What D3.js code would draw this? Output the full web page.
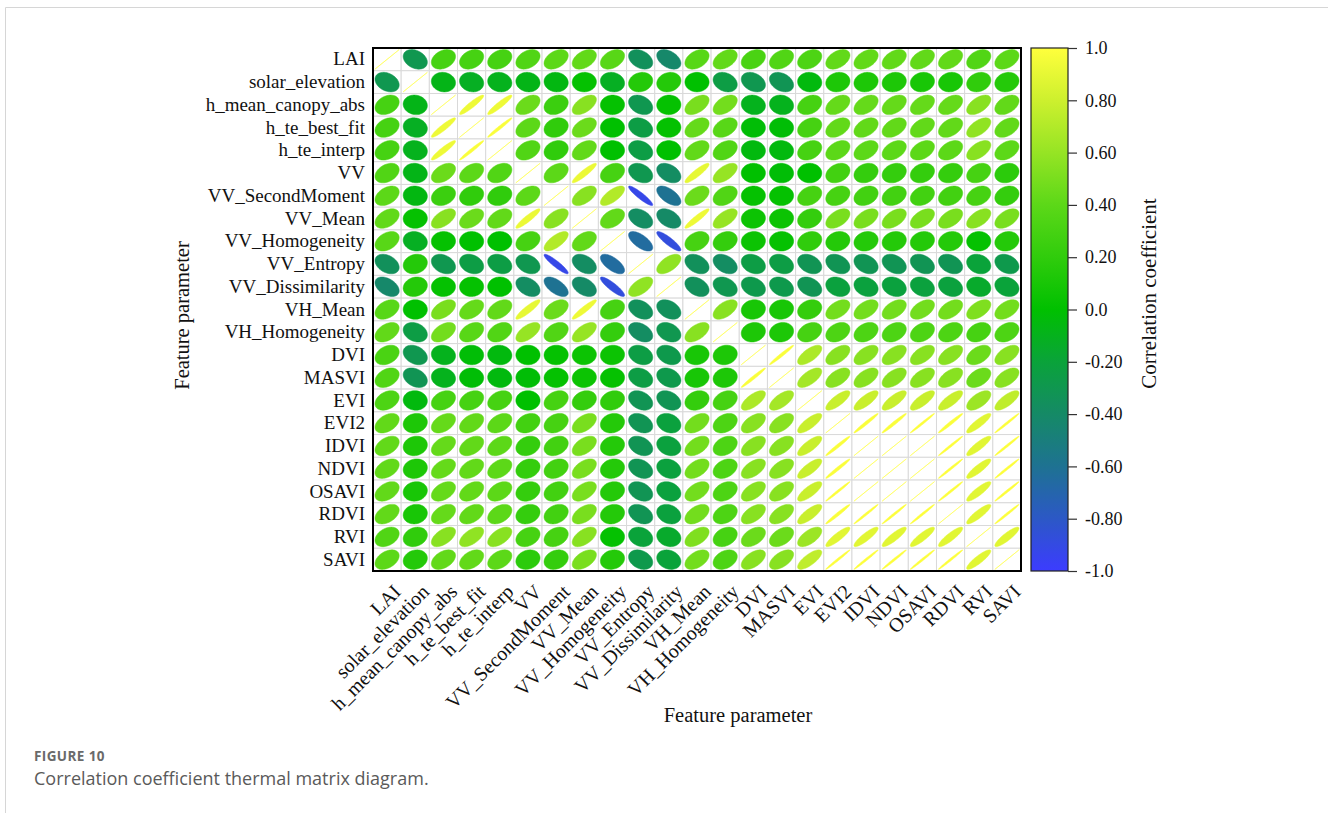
<!DOCTYPE html>
<html>
<head>
<meta charset="utf-8">
<script src="https://cdn.jsdelivr.net/npm/d3@7"></script>
<style>
  html, body { margin: 0; padding: 0; background: #fff; }
  svg { display: block; }
</style>
</head>
<body>
<svg id="chart" width="1328" height="813"></svg>
<script>
// Feature parameters, in matrix order
const features = [
  "LAI", "solar_elevation", "h_mean_canopy_abs", "h_te_best_fit", "h_te_interp",
  "VV", "VV_SecondMoment", "VV_Mean", "VV_Homogeneity", "VV_Entropy",
  "VV_Dissimilarity", "VH_Mean", "VH_Homogeneity", "DVI", "MASVI", "EVI",
  "EVI2", "IDVI", "NDVI", "OSAVI", "RDVI", "RVI", "SAVI"
];

// Pearson correlation coefficients, one row per feature
const corrLAI        = [1, -0.30, 0.30, 0.30, 0.30, 0.35, 0.40, 0.42, 0.38, -0.35, -0.42, 0.38, 0.42, 0.32, 0.35, 0.33, 0.42, 0.42, 0.42, 0.42, 0.42, 0.35, 0.40];
const corrSolar      = [-0.30, 1, -0.08, -0.12, -0.10, -0.08, -0.06, 0.02, -0.12, 0.15, 0.15, 0.00, -0.25, -0.30, -0.32, -0.05, 0.12, 0.12, 0.12, 0.10, 0.10, 0.20, 0.15];
const corrHMean      = [0.30, -0.08, 1, 0.93, 0.93, 0.45, 0.25, 0.55, 0.02, -0.30, 0.02, 0.50, 0.48, -0.10, -0.10, 0.30, 0.43, 0.43, 0.43, 0.43, 0.43, 0.55, 0.42];
const corrHBestFit   = [0.30, -0.12, 0.93, 1, 0.98, 0.40, 0.20, 0.45, 0.00, -0.25, 0.02, 0.43, 0.38, -0.02, -0.02, 0.30, 0.42, 0.42, 0.42, 0.42, 0.42, 0.58, 0.42];
const corrHInterp    = [0.30, -0.10, 0.93, 0.98, 1, 0.35, 0.20, 0.42, 0.00, -0.25, 0.00, 0.42, 0.35, -0.05, -0.05, 0.30, 0.40, 0.40, 0.40, 0.40, 0.40, 0.55, 0.40];
const corrVV         = [0.35, -0.08, 0.45, 0.40, 0.35, 1, 0.40, 0.92, 0.30, -0.30, -0.38, 0.90, 0.60, 0.00, -0.02, 0.00, 0.28, 0.22, 0.22, 0.22, 0.22, 0.30, 0.18];
const corrVVSecMom   = [0.40, -0.06, 0.25, 0.20, 0.20, 0.40, 1, 0.55, 0.70, -0.92, -0.60, 0.45, 0.35, 0.02, 0.02, 0.30, 0.30, 0.28, 0.28, 0.28, 0.28, 0.30, 0.22];
const corrVVMean     = [0.42, 0.02, 0.55, 0.45, 0.42, 0.92, 0.55, 1, 0.42, -0.38, -0.40, 0.93, 0.60, 0.05, 0.05, 0.22, 0.50, 0.50, 0.50, 0.50, 0.50, 0.55, 0.50];
const corrVVHomog    = [0.38, -0.12, 0.02, 0.00, 0.00, 0.30, 0.70, 0.42, 1, -0.65, -0.88, 0.30, 0.22, 0.05, 0.02, 0.20, 0.15, 0.15, 0.15, 0.15, 0.15, 0.02, 0.15];
const corrVVEntropy  = [-0.35, 0.15, -0.30, -0.25, -0.25, -0.30, -0.92, -0.38, -0.65, 1, 0.58, -0.35, -0.38, -0.25, -0.25, -0.32, -0.32, -0.32, -0.32, -0.32, -0.32, -0.20, -0.28];
const corrVVDissim   = [-0.42, 0.15, 0.02, 0.02, 0.00, -0.38, -0.60, -0.40, -0.88, 0.58, 1, -0.35, -0.30, -0.28, -0.28, -0.32, -0.22, -0.22, -0.22, -0.22, -0.22, -0.15, -0.20];
const corrVHMean     = [0.38, 0.00, 0.50, 0.43, 0.42, 0.90, 0.45, 0.93, 0.30, -0.35, -0.35, 1, 0.55, 0.10, 0.10, 0.22, 0.48, 0.48, 0.48, 0.48, 0.48, 0.52, 0.48];
const corrVHHomog    = [0.42, -0.25, 0.48, 0.38, 0.35, 0.60, 0.35, 0.60, 0.22, -0.38, -0.30, 0.55, 1, 0.12, 0.12, 0.30, 0.33, 0.33, 0.33, 0.33, 0.33, 0.30, 0.33];
const corrDVI        = [0.32, -0.30, -0.10, -0.02, -0.05, 0.00, 0.02, 0.05, 0.05, -0.25, -0.28, 0.10, 0.12, 1, 0.98, 0.68, 0.55, 0.55, 0.55, 0.55, 0.55, 0.45, 0.55];
const corrMASVI      = [0.35, -0.32, -0.10, -0.02, -0.05, -0.02, 0.02, 0.05, 0.02, -0.25, -0.28, 0.10, 0.12, 0.98, 1, 0.65, 0.55, 0.55, 0.55, 0.55, 0.55, 0.45, 0.55];
const corrEVI        = [0.33, -0.05, 0.30, 0.30, 0.30, 0.00, 0.30, 0.22, 0.20, -0.32, -0.32, 0.22, 0.30, 0.68, 0.65, 1, 0.78, 0.78, 0.78, 0.78, 0.78, 0.62, 0.75];
const corrEVI2       = [0.42, 0.12, 0.43, 0.42, 0.40, 0.28, 0.30, 0.50, 0.15, -0.32, -0.22, 0.48, 0.33, 0.55, 0.55, 0.78, 1, 0.98, 0.98, 0.99, 0.98, 0.88, 0.99];
const corrIDVI       = [0.42, 0.12, 0.43, 0.42, 0.40, 0.22, 0.28, 0.50, 0.15, -0.32, -0.22, 0.48, 0.33, 0.55, 0.55, 0.78, 0.98, 1, 1.00, 1.00, 0.99, 0.88, 0.99];
const corrNDVI       = [0.42, 0.12, 0.43, 0.42, 0.40, 0.22, 0.28, 0.50, 0.15, -0.32, -0.22, 0.48, 0.33, 0.55, 0.55, 0.78, 0.98, 1.00, 1, 1.00, 0.99, 0.88, 0.99];
const corrOSAVI      = [0.42, 0.10, 0.43, 0.42, 0.40, 0.22, 0.28, 0.50, 0.15, -0.32, -0.22, 0.48, 0.33, 0.55, 0.55, 0.78, 0.99, 1.00, 1.00, 1, 0.99, 0.88, 0.99];
const corrRDVI       = [0.42, 0.10, 0.43, 0.42, 0.40, 0.22, 0.28, 0.50, 0.15, -0.32, -0.22, 0.48, 0.33, 0.55, 0.55, 0.78, 0.98, 0.99, 0.99, 0.99, 1, 0.88, 0.99];
const corrRVI        = [0.35, 0.20, 0.55, 0.58, 0.55, 0.30, 0.30, 0.55, 0.02, -0.20, -0.15, 0.52, 0.30, 0.45, 0.45, 0.62, 0.88, 0.88, 0.88, 0.88, 0.88, 1, 0.88];
const corrSAVI       = [0.40, 0.15, 0.42, 0.42, 0.40, 0.18, 0.22, 0.50, 0.15, -0.28, -0.20, 0.48, 0.33, 0.55, 0.55, 0.75, 0.99, 0.99, 0.99, 0.99, 0.99, 0.88, 1];

const corrRows = [
  corrLAI, corrSolar, corrHMean, corrHBestFit, corrHInterp, corrVV, corrVVSecMom,
  corrVVMean, corrVVHomog, corrVVEntropy, corrVVDissim, corrVHMean, corrVHHomog,
  corrDVI, corrMASVI, corrEVI, corrEVI2, corrIDVI, corrNDVI, corrOSAVI, corrRDVI,
  corrRVI, corrSAVI
];

// Colour map stops (value -> colour) and colour-bar tick labels
const colorStops  = [-1, -0.8, -0.6, -0.4, -0.2, 0, 0.2, 0.4, 0.6, 0.8, 1];
const colorValues = ["#3c3cff", "#2c58c6", "#1e7292", "#158a66", "#0aa33a", "#00c000",
                     "#30cc0c", "#5cd818", "#96e424", "#cdf02e", "#ffff3c"];
const colorTicks  = [1.0, 0.8, 0.6, 0.4, 0.2, 0.0, -0.2, -0.4, -0.6, -0.8, -1.0];
const colorTickLabels = ["1.0", "0.80", "0.60", "0.40", "0.20", "0.0",
                         "-0.20", "-0.40", "-0.60", "-0.80", "-1.0"];

const svg = d3.select("#chart");
const serif = "'Liberation Serif', 'Times New Roman', serif";

// Figure card edge
svg.append("path")
  .attr("d", "M5.5,813 V7.5 H1328")
  .attr("fill", "none").attr("stroke", "#d6d6d6").attr("stroke-width", 1);

// Matrix area
const plot = { left: 373, top: 48, right: 1021, bottom: 571 };
const x = d3.scaleBand().domain(features).range([plot.left, plot.right]);
const y = d3.scaleBand().domain(features).range([plot.top, plot.bottom]);
const color = d3.scaleLinear().domain(colorStops).range(colorValues).clamp(true);

const cells = [];
corrRows.forEach((row, i) => row.forEach((r, j) => cells.push({ row: features[i], col: features[j], r })));

// Cell grid
const grid = svg.append("g");
grid.selectAll("rect").data(cells).join("rect")
  .attr("x", d => x(d.col)).attr("y", d => y(d.row))
  .attr("width", x.bandwidth()).attr("height", y.bandwidth())
  .attr("fill", "#fff").attr("stroke", "#d9d9d9").attr("stroke-width", 1);

// Ellipse for a correlation r inside a cell (positive r leans up-right)
function ellipsePath(r, cx, cy, kx, ky) {
  const d = Math.acos(Math.max(-1, Math.min(1, r)));
  const pts = d3.range(0, 73).map(k => {
    const t = k / 72 * 2 * Math.PI;
    return [cx + kx * Math.cos(t + d / 2), cy - ky * Math.cos(t - d / 2)];
  });
  return d3.line()(pts) + "Z";
}

const kx = x.bandwidth() * 0.43, ky = y.bandwidth() * 0.43;
svg.append("g").selectAll("path").data(cells).join("path")
  .attr("d", d => ellipsePath(d.r, x(d.col) + x.bandwidth() / 2, y(d.row) + y.bandwidth() / 2, kx, ky))
  .attr("fill", d => color(d.r))
  .attr("stroke", d => color(d.r))
  .attr("stroke-width", d => d.r >= 0.999 ? 1 : 0.5)
  .attr("stroke-opacity", d => d.r >= 0.999 ? 0.55 : 1);

// Frame
svg.append("rect")
  .attr("x", plot.left).attr("y", plot.top)
  .attr("width", plot.right - plot.left).attr("height", plot.bottom - plot.top)
  .attr("fill", "none").attr("stroke", "#000").attr("stroke-width", 2);

// Row labels
const yAxis = svg.append("g").attr("transform", `translate(${plot.left - 8},0)`)
  .call(d3.axisLeft(y).tickSize(0).tickPadding(0));
yAxis.select(".domain").remove();
yAxis.selectAll("text").attr("font-family", serif).attr("font-size", 19).attr("fill", "#111");

// Column labels, rotated
const xAxis = svg.append("g").attr("transform", `translate(0,${plot.bottom})`)
  .call(d3.axisBottom(x).tickSize(0).tickPadding(0));
xAxis.select(".domain").remove();
xAxis.selectAll("text")
  .attr("font-family", serif).attr("font-size", 20).attr("fill", "#111")
  .attr("text-anchor", "end")
  .attr("dy", null).attr("y", 0)
  .attr("transform", "translate(15,22) rotate(-45)");

// Axis titles
svg.append("text")
  .attr("x", 738).attr("y", 722).attr("text-anchor", "middle")
  .attr("font-family", serif).attr("font-size", 20.5).attr("fill", "#111")
  .text("Feature parameter");
svg.append("text")
  .attr("transform", `translate(189,${(plot.top + plot.bottom) / 2 + 6}) rotate(-90)`)
  .attr("text-anchor", "middle")
  .attr("font-family", serif).attr("font-size", 20.5).attr("fill", "#111")
  .text("Feature parameter");

// Colour bar
const bar = { x: 1031, w: 37 };
const cbScale = d3.scaleLinear().domain([-1, 1]).range([plot.bottom, plot.top]);
const grad = svg.append("defs").append("linearGradient")
  .attr("id", "corrGradient").attr("x1", 0).attr("y1", 1).attr("x2", 0).attr("y2", 0);
grad.selectAll("stop").data(colorStops).join("stop")
  .attr("offset", d => (d + 1) / 2)
  .attr("stop-color", d => color(d));
svg.append("rect")
  .attr("x", bar.x).attr("y", plot.top)
  .attr("width", bar.w).attr("height", plot.bottom - plot.top)
  .attr("fill", "url(#corrGradient)").attr("stroke", "#222").attr("stroke-width", 1.2);

const cbAxis = svg.append("g").attr("transform", `translate(${bar.x + bar.w},0)`)
  .call(d3.axisRight(cbScale).tickValues(colorTicks).tickSize(9).tickPadding(8)
    .tickFormat((d, i) => colorTickLabels[i]));
cbAxis.select(".domain").remove();
cbAxis.selectAll("line").attr("stroke", "#333").attr("stroke-width", 1.2);
cbAxis.selectAll("text").attr("font-family", serif).attr("font-size", 18).attr("fill", "#111");

svg.append("text")
  .attr("transform", `translate(1156,${(plot.top + plot.bottom) / 2 - 16}) rotate(-90)`)
  .attr("text-anchor", "middle")
  .attr("font-family", serif).attr("font-size", 21).attr("fill", "#111")
  .text("Correlation coefficient");

// Caption
svg.append("text")
  .attr("x", 34).attr("y", 761)
  .attr("font-family", "'Open Sans', 'Noto Sans', sans-serif").attr("font-size", 13.5)
  .attr("font-weight", 700).attr("fill", "#6a6a6a").attr("letter-spacing", 0.4)
  .text("FIGURE 10");
svg.append("text")
  .attr("x", 34).attr("y", 785)
  .attr("font-family", "'Open Sans', 'Noto Sans', sans-serif").attr("font-size", 18)
  .attr("fill", "#5a5a5a")
  .text("Correlation coefficient thermal matrix diagram.");
</script>
</body>
</html>
